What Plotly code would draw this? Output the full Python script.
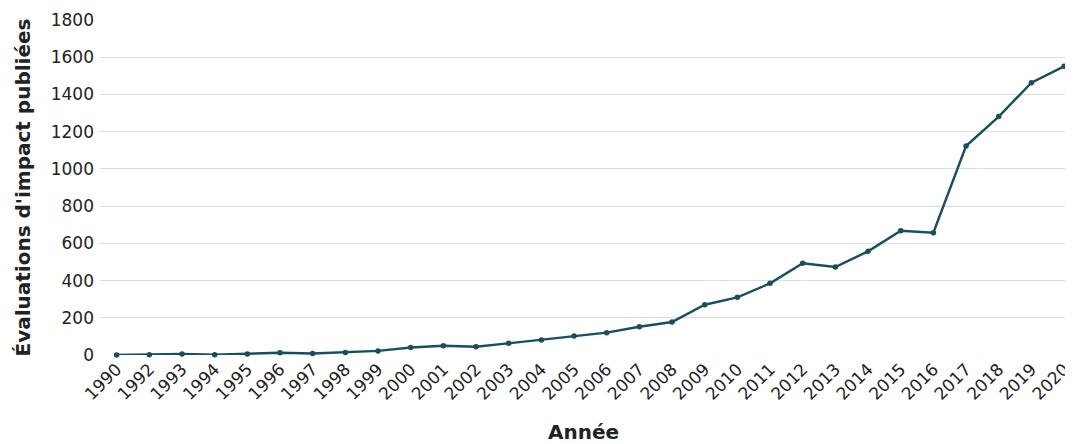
import plotly.graph_objects as go

years = ["1990", "1992", "1993", "1994", "1995", "1996", "1997", "1998", "1999", "2000",
         "2001", "2002", "2003", "2004", "2005", "2006", "2007", "2008", "2009", "2010",
         "2011", "2012", "2013", "2014", "2015", "2016", "2017", "2018", "2019", "2020"]
evaluations = [0, 2, 5, 2, 5, 12, 8, 14, 22, 40,
               50, 44, 63, 81, 102, 120, 152, 177, 270, 310,
               385, 493, 473, 557, 668, 657, 1123, 1281, 1463, 1551]
y_ticks = [0, 200, 400, 600, 800, 1000, 1200, 1400, 1600, 1800]

FONT = "'DejaVu Sans', sans-serif"
LINE = "#174f5e"

fig = go.Figure(go.Scatter(
    x=years, y=evaluations, mode="lines+markers",
    line=dict(color=LINE, width=2.4),
    marker=dict(color=LINE, size=5.5),
    cliponaxis=False,
))

fig.update_layout(
    width=1065, height=436,
    margin=dict(l=92, r=0, t=12, b=89),
    paper_bgcolor="white", plot_bgcolor="white",
    showlegend=False,
    font=dict(family=FONT, color="#222222", size=17),
    xaxis=dict(
        type="category", range=[-0.51, 29.09],
        tickangle=-45, showgrid=False, showline=False, ticks="",
        tickfont=dict(size=17),
        title=dict(text="<b>Année</b>", font=dict(size=20), standoff=22),
    ),
    yaxis=dict(
        range=[0, 1800], tickvals=y_ticks, showgrid=True,
        gridcolor="#dedede", gridwidth=1.2, zeroline=False,
        showline=False, ticks="", tickfont=dict(size=17), ticklabelstandoff=5,
        title=dict(text="<b>Évaluations d'impact publiées</b>", font=dict(size=20), standoff=14),
    ),
)

fig.write_html("out.html")
